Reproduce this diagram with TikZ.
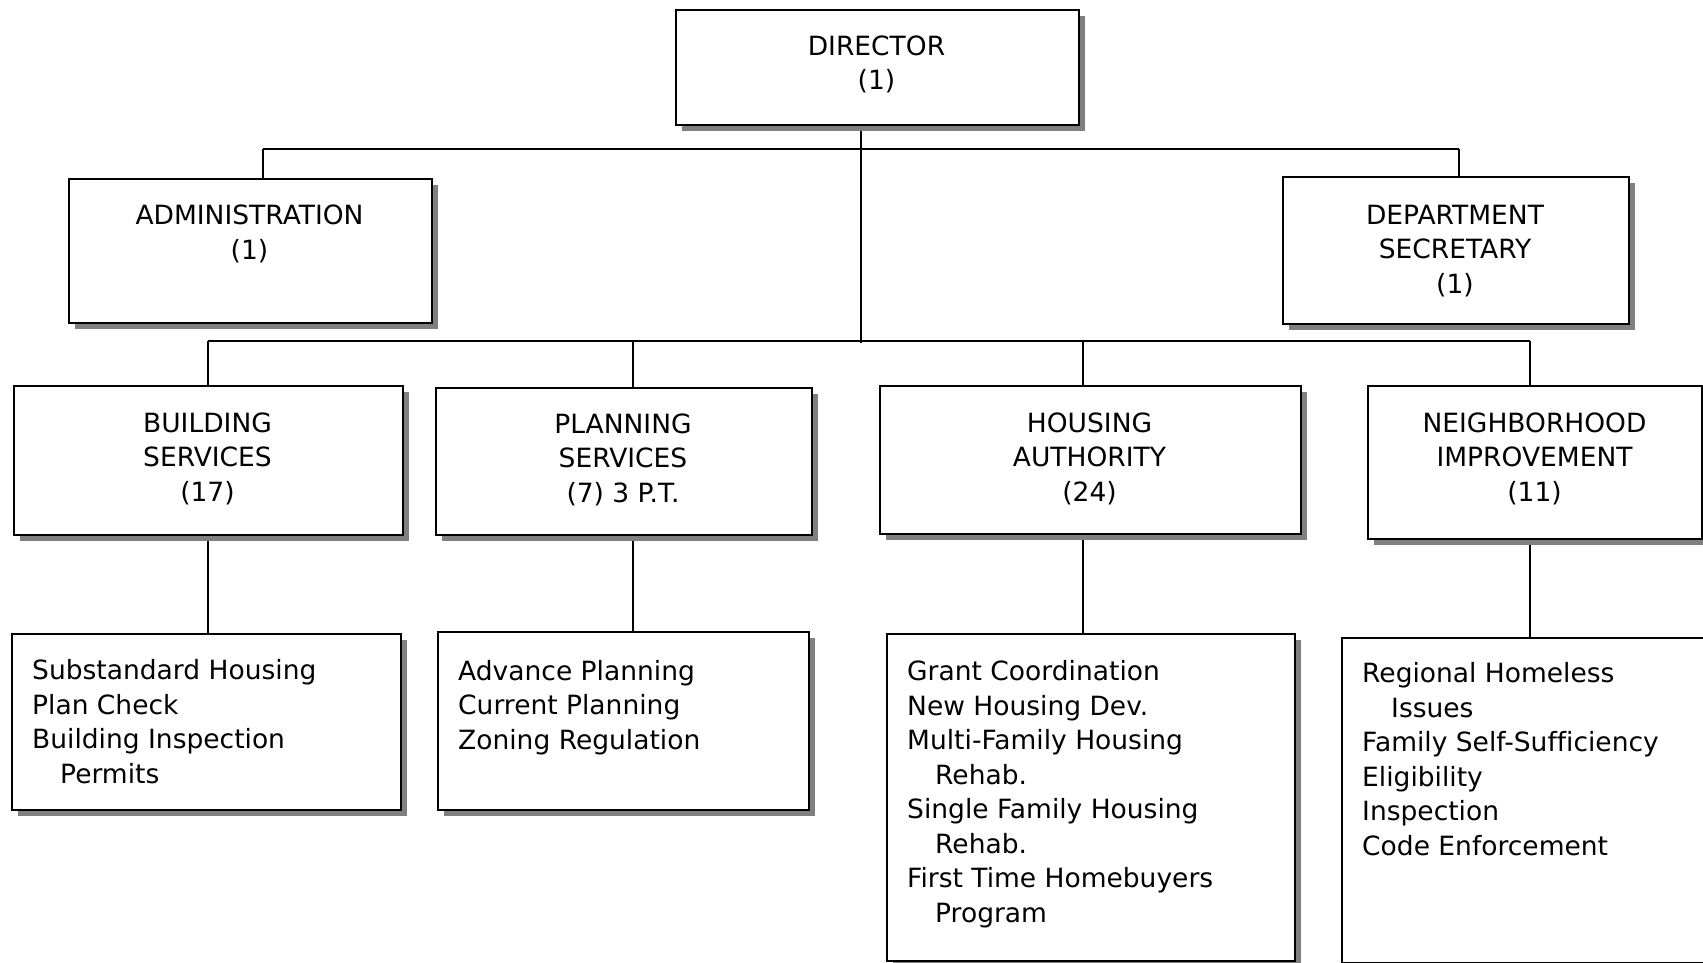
\documentclass[tikz,border=0pt]{standalone}
\usepackage{fontspec}
\setmainfont{DejaVu Sans}[Ligatures=NoCommon]
\usetikzlibrary{shadows}
\pgfdeclarelayer{bg}
\pgfsetlayers{bg,main}
\begin{document}
\begin{tikzpicture}[x=1pt,y=-1pt,
  box/.style={draw=black, line width=2.4pt, fill=white, rectangle, inner sep=0pt,
    anchor=north west,
    drop shadow={shadow xshift=6pt, shadow yshift=-6pt, fill=black!50, opacity=1}},
  head/.style={align=center, inner sep=0pt, anchor=base,
    font=\fontsize{26.5}{34.5}\selectfont},
  list/.style={align=left, inner sep=0pt, anchor=base west,
    font=\fontsize{26.5}{34.5}\selectfont},
  link/.style={line width=2pt, draw=black}]
\useasboundingbox (0,0) rectangle (1703,963);
\clip (0,0) rectangle (1703,963);

% boxes
\node[box, minimum width=403pt, minimum height=115pt] (dir)  at (675,9)   {};
\node[box, minimum width=363pt, minimum height=144pt] (adm)  at (68,178)  {};
\node[box, minimum width=346pt, minimum height=147pt] (sec)  at (1282,176) {};
\node[box, minimum width=389pt, minimum height=149pt] (bld)  at (13,385)  {};
\node[box, minimum width=376pt, minimum height=147pt] (pln)  at (435,387) {};
\node[box, minimum width=421pt, minimum height=148pt] (hsg)  at (879,385) {};
\node[box, minimum width=334pt, minimum height=153pt] (nbr)  at (1367,385) {};
\node[box, minimum width=389pt, minimum height=176pt] (bldL) at (11,633)  {};
\node[box, minimum width=371pt, minimum height=178pt] (plnL) at (437,631) {};
\node[box, minimum width=408pt, minimum height=327pt] (hsgL) at (886,633) {};
\node[box, minimum width=379pt, minimum height=325pt] (nbrL) at (1341,637) {};

% titles (placed by the baseline of their last line)
\node[head] (dirT) at (876.5,90)  {DIRECTOR\\(1)};
\node[head] (admT) at (249.5,259) {ADMINISTRATION\\(1)};
\node[head] (secT) at (1455,293)  {DEPARTMENT\\SECRETARY\\(1)};
\node[head] (bldT) at (207.5,501) {BUILDING\\SERVICES\\(17)};
\node[head] (plnT) at (623,502)   {PLANNING\\SERVICES\\(7) 3 P.T.};
\node[head] (hsgT) at (1089.5,501) {HOUSING\\AUTHORITY\\(24)};
\node[head] (nbrT) at (1534.5,501) {NEIGHBORHOOD\\IMPROVEMENT\\(11)};

% duties (placed by the baseline of their last line)
\node[list] (bldLT) at (32,783) {Substandard Housing\\Plan Check\\Building Inspection\\\hspace*{28pt}Permits};
\node[list] (plnLT) at (458,749) {Advance Planning\\Current Planning\\Zoning Regulation};
\node[list] (hsgLT) at (907,922) {Grant Coordination\\New Housing Dev.\\Multi-Family Housing\\\hspace*{28pt}Rehab.\\Single Family Housing\\\hspace*{28pt}Rehab.\\First Time Homebuyers\\\hspace*{28pt}Program};
\node[list] (nbrLT) at (1362,855) {Regional Homeless\\\hspace*{29pt}Issues\\Family Self-Sufficiency\\Eligibility\\Inspection\\Code Enforcement};

% connectors
\coordinate (j1) at (263,149);
\coordinate (j2) at (1459,149);
\coordinate (spine) at (861,343);
\coordinate (bL) at (208,341);
\coordinate (bR) at (1530,341);
\coordinate (xP) at (633,341);
\coordinate (xH) at (1083,341);
\begin{pgfonlayer}{bg}
\draw[link] (j1) -- (j2);
\draw[link] (j1) -- (j1 |- adm.north);
\draw[link] (j2) -- (j2 |- sec.north);
\draw[link] (dir.south -| spine) -- (spine);
\draw[link] (bL) -- (bR);
\draw[link] (bL) -- (bL |- bld.north);
\draw[link] (xP) -- (xP |- pln.north);
\draw[link] (xH) -- (xH |- hsg.north);
\draw[link] (bR) -- (bR |- nbr.north);
\draw[link] (bld.south -| bL) -- (bldL.north -| bL);
\draw[link] (pln.south -| xP) -- (plnL.north -| xP);
\draw[link] (hsg.south -| xH) -- (hsgL.north -| xH);
\draw[link] (nbr.south -| bR) -- (nbrL.north -| bR);
\end{pgfonlayer}
\end{tikzpicture}
\end{document}
